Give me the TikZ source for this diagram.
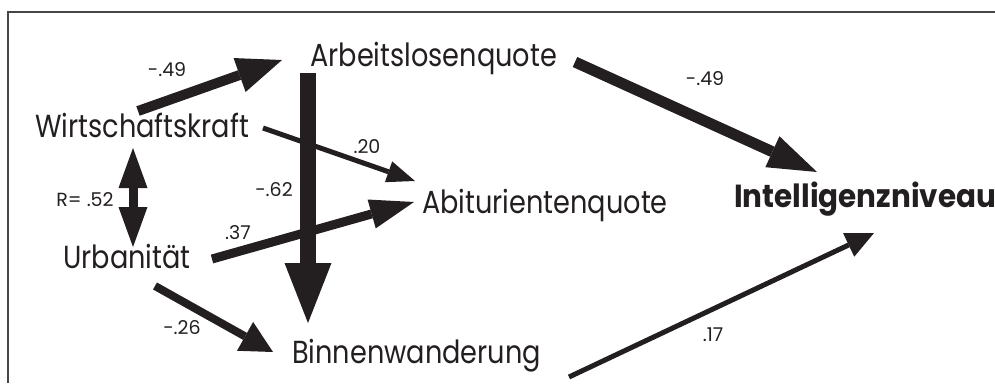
\documentclass[tikz,border=0pt]{standalone}
\usepackage{fontspec}
\setmainfont{Poppins}
\usetikzlibrary{arrows.meta}
\definecolor{ink}{RGB}{35,31,32}
\definecolor{framegray}{RGB}{70,70,70}
% variable names are set slightly narrower and taller than the plain face
\newcommand\varname[1]{\scalebox{0.97}[1.14]{#1}}
\newcommand\varnamebold[1]{\scalebox{1.05}[1.14]{\bfseries #1}}
\tikzset{
  var/.style={inner sep=0pt, anchor=base west, text=ink, font=\fontsize{28}{32}\selectfont},
  coef/.style={inner sep=0pt, text=ink, font=\fontsize{19}{22}\selectfont},
  path/.style={draw=ink, line width=#1},
  tip/.style 2 args={-{Triangle[length=#1, width=#2, line width=0pt]}},
}
\begin{document}
\begin{tikzpicture}[x=1pt, y=-1pt]
\useasboundingbox (0,0) rectangle (995,383);
% open frame (left and top edges)
\draw[framegray, line width=1.2pt] (8,383) -- (8,12) -- (995,12);

% variables
\node[var] (wk)  at (35,137)  {\varname{Wirtschaftskraft}};
\node[var] (urb) at (63,268)  {\varname{Urbanität}};
\node[var] (alq) at (310,66)  {\varname{Arbeitslosenquote}};
\node[var] (abi) at (422,213) {\varname{Abiturientenquote}};
\node[var] (bw)  at (292,363) {\varname{Binnenwanderung}};
\node[var] (iq)  at (734,207) {\varnamebold{Intelligenzniveau}};

% arrow end points
\coordinate (wk-alq-s) at (138,111);  \coordinate (wk-alq-e) at (282,60);
\coordinate (alq-bw-s) at (308,73);   \coordinate (alq-bw-e) at (308,323);
\coordinate (wk-abi-s) at (263,128);  \coordinate (wk-abi-e) at (415,181);
\coordinate (urb-abi-s) at (212,259); \coordinate (urb-abi-e) at (414,202);
\coordinate (urb-bw-s) at (155,286);  \coordinate (urb-bw-e) at (273,352);
\coordinate (wk-urb-a) at (133,148);  \coordinate (wk-urb-b) at (133,247);
\coordinate (alq-iq-s) at (575,62);   \coordinate (alq-iq-e) at (817,172);
\coordinate (bw-iq-s) at (569,377);   \coordinate (bw-iq-e) at (874,233);

% paths
\draw[path=10pt, tip={45pt}{36pt}] (wk-alq-s) -- (wk-alq-e);
\draw[path=5pt,  tip={28pt}{22pt}] (wk-abi-s) -- (wk-abi-e);
\draw[path=16pt, tip={60pt}{47pt}] (alq-bw-s) -- (alq-bw-e);
\draw[path=9pt,  tip={44pt}{30pt}] (urb-abi-s) -- (urb-abi-e);
\draw[path=8pt,  tip={32pt}{33pt}] (urb-bw-s) -- (urb-bw-e);
\draw[path=9pt, {Triangle[length=40pt, width=29pt, line width=0pt]}-{Triangle[length=40pt, width=29pt, line width=0pt]}] (wk-urb-a) -- (wk-urb-b);
\draw[path=11pt, tip={49pt}{34pt}] (alq-iq-s) -- (alq-iq-e);
\draw[path=5pt,  tip={28pt}{26pt}] (bw-iq-s) -- (bw-iq-e);

% coefficients
\node[coef] (c1) at (167,70)  {-.49};
\node[coef] (c2) at (367,147) {.20};
\node[coef] (c3) at (274,190) {-.62};
\node[coef] (c4) at (85,200)  {R= .52};
\node[coef] (c5) at (238,233) {.37};
\node[coef] (c6) at (182,328) {-.26};
\node[coef] (c7) at (705,79)  {-.49};
\node[coef] (c8) at (713,335) {.17};
\end{tikzpicture}
\end{document}
